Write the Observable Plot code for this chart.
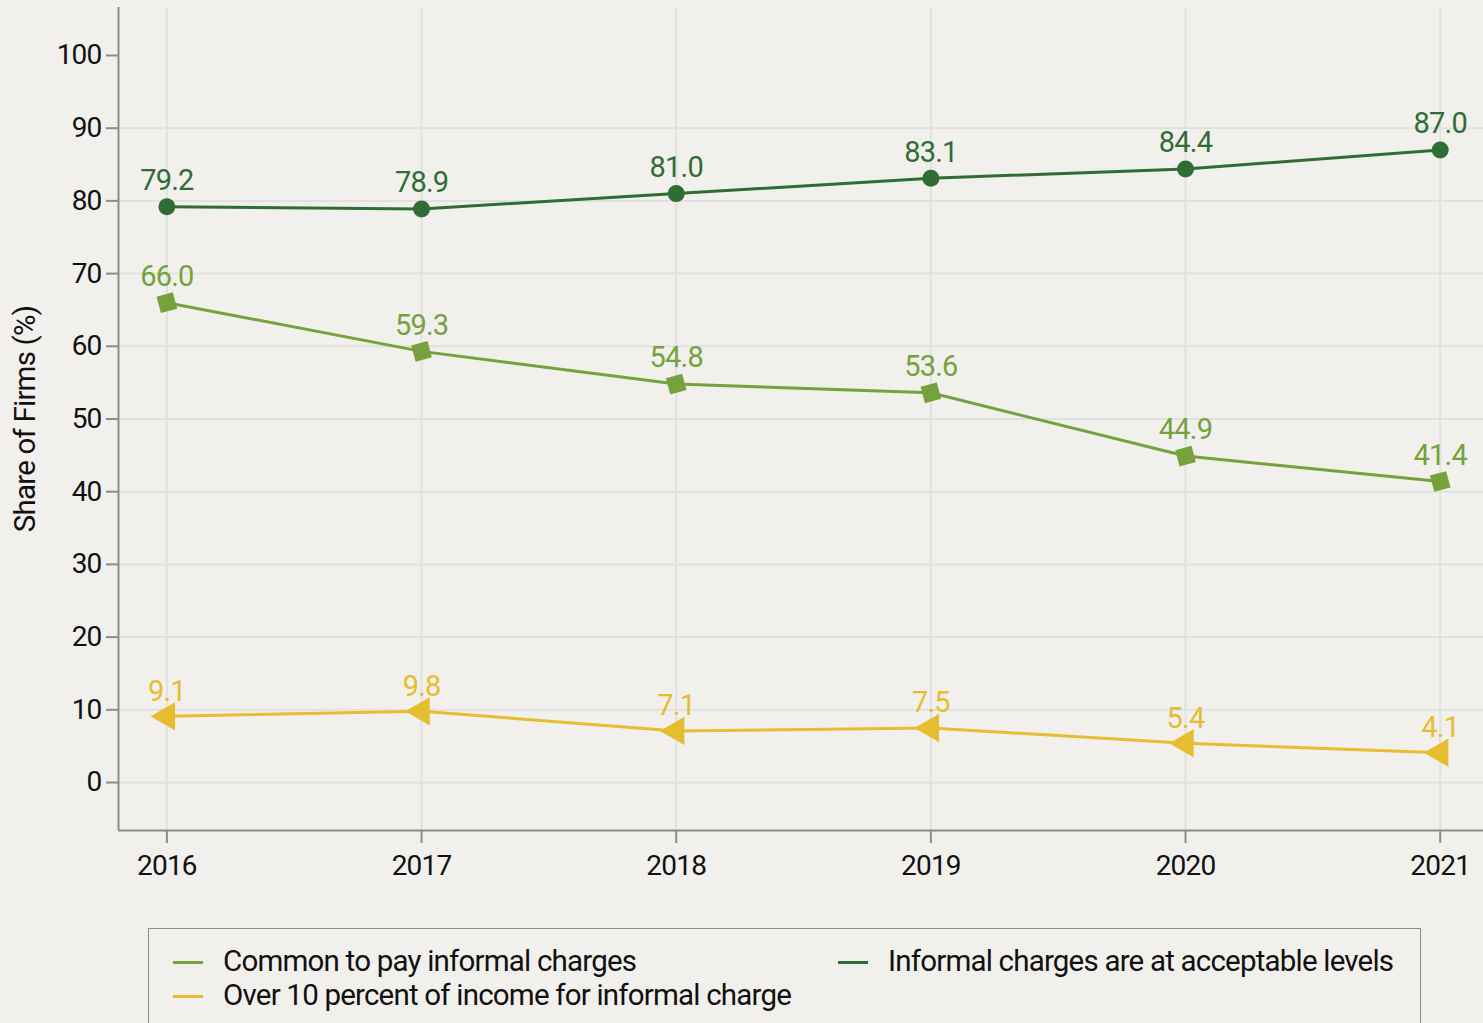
<!DOCTYPE html>
<html>
<head>
<meta charset="utf-8">
<script src="https://cdn.jsdelivr.net/npm/d3@7"></script>
<script src="https://cdn.jsdelivr.net/npm/@observablehq/plot@0.6"></script>
<style>
  html, body { margin: 0; padding: 0; background: #f1f0ed; }
  body { width: 1483px; height: 1023px; overflow: hidden; position: relative;
         font-family: Roboto, sans-serif; }
  #chart { position: absolute; left: 0; top: 0; }
  #chart svg text { letter-spacing: -0.8px; }
  #legend { position: absolute; left: 148px; top: 928px; width: 1273px; height: 120px;
            border: 1.5px solid #8c8c8c; box-sizing: border-box; }
  .item { position: absolute; font-size: 29.5px; color: #111; white-space: nowrap; line-height: 34px;
          letter-spacing: -0.8px; }
  .sw { position: absolute; top: 17px; width: 30px; height: 3px; }
  .item span.t { position: absolute; left: 50px; top: 0; }
</style>
</head>
<body>
<div id="chart"></div>
<div id="legend"></div>
<script>
const years = [2016, 2017, 2018, 2019, 2020, 2021];
const acceptable = [79.2, 78.9, 81.0, 83.1, 84.4, 87.0];
const common = [66.0, 59.3, 54.8, 53.6, 44.9, 41.4];
const over10 = [9.1, 9.8, 7.1, 7.5, 5.4, 4.1];
const seriesNames = [
  "Informal charges are at acceptable levels",
  "Common to pay informal charges",
  "Over 10 percent of income for informal charge"
];
const colors = ["#2f6d35", "#76a23d", "#e6bd2f"];
const yTicks = [0, 10, 20, 30, 40, 50, 60, 70, 80, 90, 100];
const gridTicks = [0, 10, 20, 30, 40, 50, 60, 70, 80, 90];

const mk = (vals, s) => years.map((y, i) => ({year: y, value: vals[i], series: s}));
const dAcc = mk(acceptable, seriesNames[0]);
const dCom = mk(common, seriesNames[1]);
const dOver = mk(over10, seriesNames[2]);

const xMin = 2015.81, xMax = 2021.17, yMin = -6.6, yMax = 106.6;

const chart = Plot.plot({
  width: 1483,
  height: 900,
  marginLeft: 118,
  marginRight: 0,
  marginTop: 7,
  marginBottom: 70,
  style: { background: "transparent", fontFamily: "Roboto, sans-serif" },
  x: { domain: [xMin, xMax] },
  y: { domain: [yMin, yMax] },
  marks: [
    Plot.gridY(gridTicks, { stroke: "#e1e1df", strokeOpacity: 1, strokeWidth: 2 }),
    Plot.gridX(years, { stroke: "#e1e1df", strokeOpacity: 1, strokeWidth: 2 }),
    Plot.axisY(yTicks, { tickSize: 12, tickPadding: 5, stroke: "#8c8c8c", strokeWidth: 2,
      fontSize: 28, fill: "#111", label: null, tickFormat: d => d }),
    Plot.axisX(years, { tickSize: 13, tickPadding: 12, stroke: "#8c8c8c", strokeWidth: 2,
      fontSize: 28, fill: "#111", label: null, tickFormat: d => String(d) }),
    Plot.ruleX([xMin], { y1: yMin, y2: yMax, stroke: "#8c8c8c", strokeWidth: 2 }),
    Plot.ruleY([yMin], { x1: xMin, x2: xMax, stroke: "#8c8c8c", strokeWidth: 2 }),
    Plot.line(dAcc, { x: "year", y: "value", stroke: colors[0], strokeWidth: 3 }),
    Plot.line(dCom, { x: "year", y: "value", stroke: colors[1], strokeWidth: 3 }),
    Plot.line(dOver, { x: "year", y: "value", stroke: colors[2], strokeWidth: 3 }),
    Plot.dot(dAcc, { x: "year", y: "value", fill: colors[0], r: 8.5, symbol: "circle" }),
    Plot.dot(dCom, { x: "year", y: "value", fill: colors[1], r: 9.5, symbol: "square", rotate: -15 }),
    Plot.dot(dOver, { x: "year", y: "value", fill: colors[2], r: 10.5, symbol: "triangle", rotate: -90 }),
    Plot.text(dAcc, { x: "year", y: "value", text: d => d.value.toFixed(1), fill: colors[0], fontSize: 29, dy: -26 }),
    Plot.text(dCom, { x: "year", y: "value", text: d => d.value.toFixed(1), fill: colors[1], fontSize: 29, dy: -26 }),
    Plot.text(dOver, { x: "year", y: "value", text: d => d.value.toFixed(1), fill: colors[2], fontSize: 29, dy: -25 }),
    Plot.text(["Share of Firms (%)"], { frameAnchor: "left", textAnchor: "middle", dx: -93, rotate: -90,
      fontSize: 29.5, fill: "#111", fontWeight: 400 })
  ]
});
document.getElementById("chart").appendChild(chart);

const legend = document.getElementById("legend");
const items = [
  { name: seriesNames[1], color: colors[1], left: 24, top: 15 },
  { name: seriesNames[2], color: colors[2], left: 24, top: 49 },
  { name: seriesNames[0], color: colors[0], left: 689, top: 15 }
];
for (const it of items) {
  const div = document.createElement("div");
  div.className = "item";
  div.style.left = it.left + "px";
  div.style.top = it.top + "px";
  const sw = document.createElement("div");
  sw.className = "sw";
  sw.style.background = it.color;
  const t = document.createElement("span");
  t.className = "t";
  t.textContent = it.name;
  div.appendChild(sw);
  div.appendChild(t);
  legend.appendChild(div);
}
</script>
</body>
</html>
